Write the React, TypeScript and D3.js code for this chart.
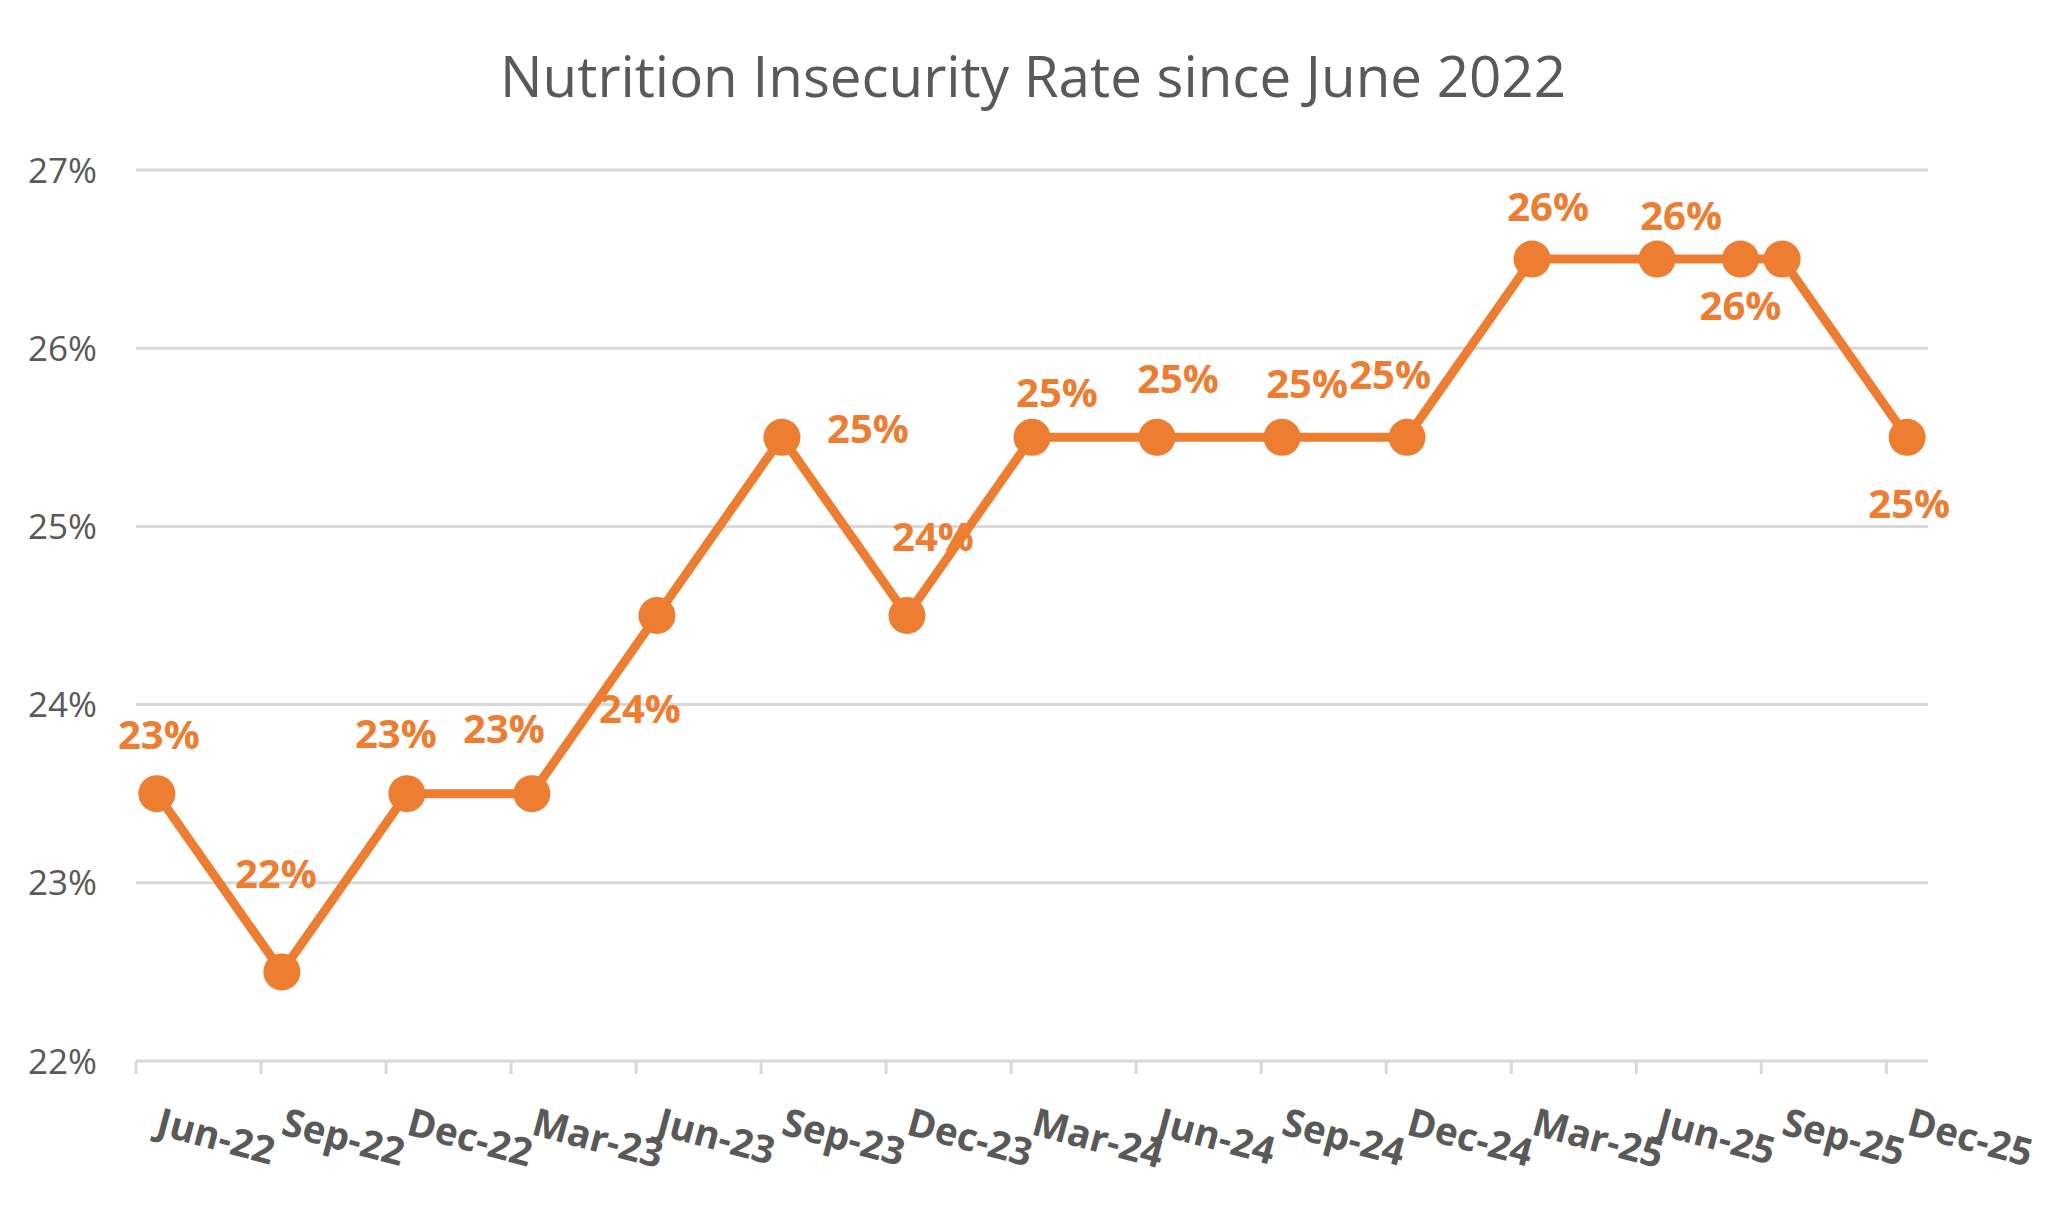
import * as d3 from "d3";
import { useEffect, useRef } from "react";

const W = 2059;
const H = 1208;
const m = { top: 170, right: 131, bottom: 147, left: 136 };

// survey dates (month the reading belongs to)
const dates = [
  "2022-06", "2022-09", "2022-12", "2023-03", "2023-06", "2023-09", "2023-12", "2024-03",
  "2024-06", "2024-09", "2024-12", "2025-03", "2025-06", "2025-08", "2025-09", "2025-12",
];
const rates = [
  0.235, 0.225, 0.235, 0.235, 0.245, 0.255, 0.245, 0.255,
  0.255, 0.255, 0.255, 0.265, 0.265, 0.265, 0.265, 0.255,
];
// what the data labels show (one point has no label)
const rateLabels = [
  "23%", "22%", "23%", "23%", "24%", "25%", "24%", "25%",
  "25%", "25%", "25%", "26%", "26%", "26%", null, "25%",
];
// manual label nudges, px from the marker
const labelNudge: [number, number][] = [
  [2, -59], [-6, -98], [-11, -60], [-28, -65], [-17, 93], [86, -9], [26, -79], [25, -45],
  [21, -59], [25, -54], [-17, -63], [16, -53], [24, -44], [0, 46], [0, 0], [2, 66],
];
const xTickLabels = [
  "Jun-22", "Sep-22", "Dec-22", "Mar-23", "Jun-23", "Sep-23", "Dec-23", "Mar-24",
  "Jun-24", "Sep-24", "Dec-24", "Mar-25", "Jun-25", "Sep-25", "Dec-25",
];
const yTicks = [0.22, 0.23, 0.24, 0.25, 0.26, 0.27];

const ORANGE = "#ED7D31";
const GRAY = "#595959";
const GRID = "#D9D9D9";

export default function App() {
  const ref = useRef<SVGSVGElement>(null);

  useEffect(() => {
    const svg = d3.select(ref.current);
    svg.selectAll("*").remove();

    const parse = d3.timeParse("%Y-%m");
    const start = parse(dates[0])!;
    const monthIdx = (s: string) => d3.timeMonth.count(start, parse(s)!);
    const nMonths = monthIdx(dates[dates.length - 1]) + 1;

    const x = d3.scaleLinear().domain([0, nMonths]).range([m.left, W - m.right]);
    const y = d3.scaleLinear().domain([0.22, 0.27]).range([H - m.bottom, m.top]);

    // title
    svg
      .append("text")
      .attr("x", 1033)
      .attr("y", 97)
      .attr("text-anchor", "middle")
      .attr("font-family", "'Open Sans', sans-serif")
      .attr("font-size", 56.5)
      .attr("fill", GRAY)
      .text("Nutrition Insecurity Rate since June 2022");

    // gridlines + y labels
    const yg = svg.append("g");
    yg.selectAll("line")
      .data(yTicks)
      .join("line")
      .attr("x1", m.left)
      .attr("x2", W - m.right)
      .attr("y1", (d) => y(d))
      .attr("y2", (d) => y(d))
      .attr("stroke", GRID)
      .attr("stroke-width", 3);
    yg.selectAll("text")
      .data(yTicks)
      .join("text")
      .attr("x", 97)
      .attr("y", (d) => y(d))
      .attr("dy", "0.36em")
      .attr("text-anchor", "end")
      .attr("font-family", "'Open Sans', sans-serif")
      .attr("font-size", 35)
      .attr("fill", GRAY)
      .text((d) => d3.format(".0%")(d));

    // x axis ticks, every 3 months
    const tickIdx = xTickLabels.map((_, i) => i * 3);
    const xg = svg.append("g").attr("transform", `translate(0, ${y(0.22)})`);
    xg.selectAll("line.tick")
      .data(tickIdx)
      .join("line")
      .attr("class", "tick")
      .attr("x1", (d) => x(d))
      .attr("x2", (d) => x(d))
      .attr("y1", 0)
      .attr("y2", 13)
      .attr("stroke", GRID)
      .attr("stroke-width", 3);
    xg.selectAll("text")
      .data(tickIdx)
      .join("text")
      .attr("transform", (d) => `translate(${x(d + 0.5) - 2}, 73) rotate(15)`)
      .attr("font-family", "'Open Sans', sans-serif")
      .attr("font-weight", 700)
      .attr("font-size", 38.5)
      .attr("fill", GRAY)
      .text((_, i) => xTickLabels[i]);

    // series
    const pts = dates.map((d, i) => ({ px: x(monthIdx(d) + 0.5), py: y(rates[i]), i }));
    const line = d3
      .line<{ px: number; py: number }>()
      .x((d) => d.px)
      .y((d) => d.py);
    svg
      .append("path")
      .attr("d", line(pts))
      .attr("fill", "none")
      .attr("stroke", ORANGE)
      .attr("stroke-width", 9)
      .attr("stroke-linejoin", "round");
    svg
      .append("g")
      .selectAll("circle")
      .data(pts)
      .join("circle")
      .attr("cx", (d) => d.px)
      .attr("cy", (d) => d.py)
      .attr("r", 18.5)
      .attr("fill", ORANGE);

    svg
      .append("g")
      .selectAll("text")
      .data(pts.filter((d) => rateLabels[d.i] !== null))
      .join("text")
      .attr("x", (d) => d.px + labelNudge[d.i][0])
      .attr("y", (d) => d.py + labelNudge[d.i][1])
      .attr("dy", "0.36em")
      .attr("text-anchor", "middle")
      .attr("font-family", "'Open Sans', sans-serif")
      .attr("font-weight", 700)
      .attr("font-size", 40)
      .attr("fill", ORANGE)
      .text((d) => rateLabels[d.i] as string);
  }, []);

  return (
    <div>
      <style>{`body{margin:0}`}</style>
      <svg ref={ref} width={W} height={H} style={{ display: "block", background: "#fff" }} />
    </div>
  );
}
